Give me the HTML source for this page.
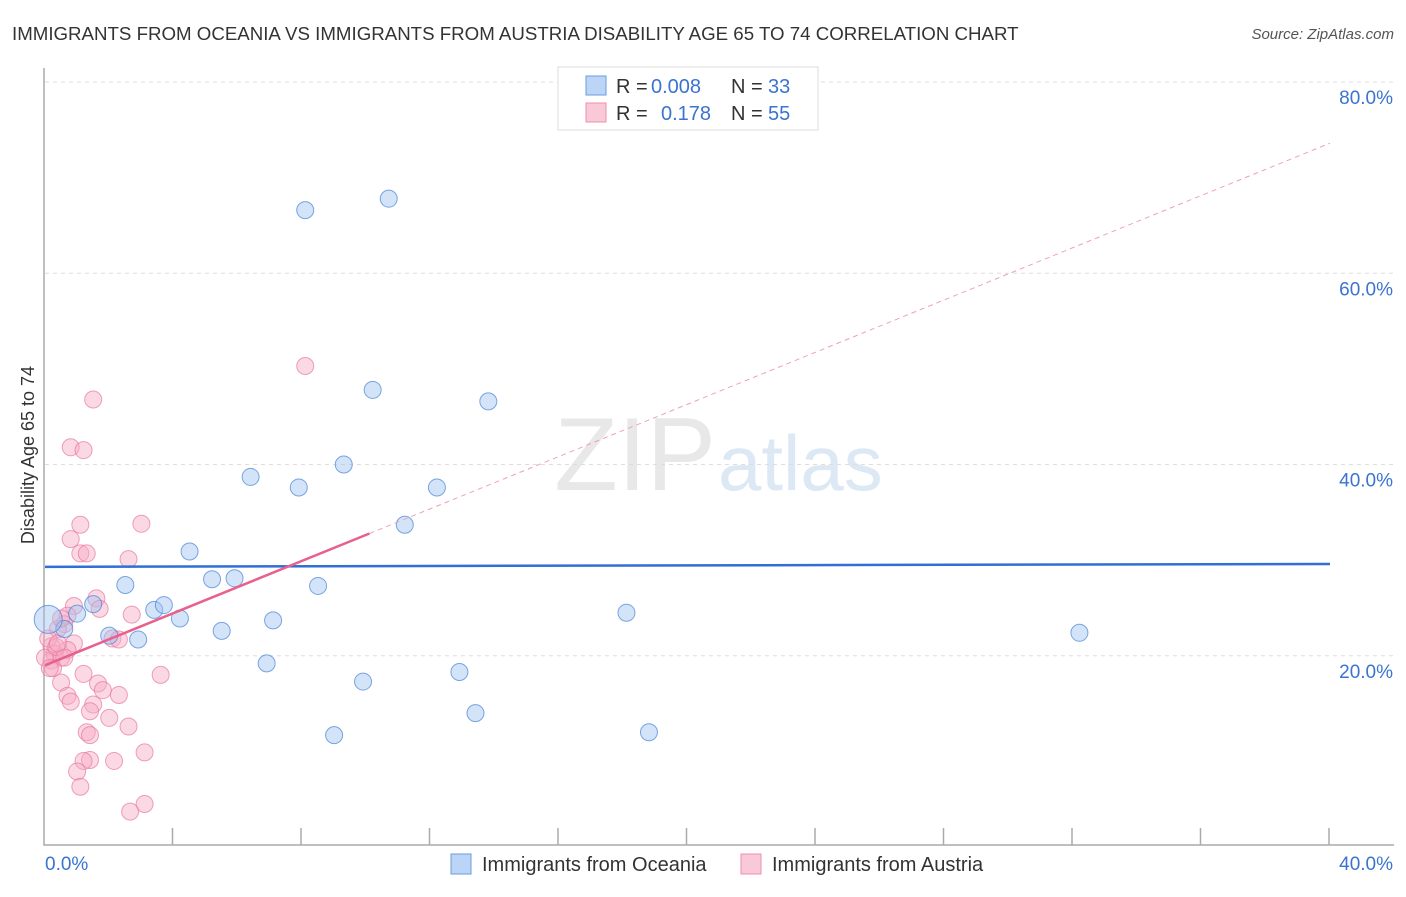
<!DOCTYPE html>
<html><head><meta charset="utf-8"><style>
body{margin:0;background:#fff;font-family:"Liberation Sans",sans-serif;}
svg text{font-family:"Liberation Sans",sans-serif;}
</style></head><body>
<svg width="1406" height="892" viewBox="0 0 1406 892">
<text x="12" y="40" font-size="18.7" fill="#333">IMMIGRANTS FROM OCEANIA VS IMMIGRANTS FROM AUSTRIA DISABILITY AGE 65 TO 74 CORRELATION CHART</text>
<text x="1394" y="39" font-size="15" fill="#555" font-style="italic" text-anchor="end">Source: ZipAtlas.com</text>
<text x="716" y="490" font-size="104" fill="#e8e8e8" text-anchor="end" font-family="Liberation Serif">ZIP</text>
<text x="718" y="490" font-size="78" fill="#dde8f5">atlas</text>
<g id="grid"></g>
<g id="axes"></g>
<g id="marks"></g>
<text x="34" y="455" font-size="18" fill="#333" text-anchor="middle" transform="rotate(-90 34 455)">Disability Age 65 to 74</text>
<g>
<rect x="558" y="67" width="260" height="63" fill="#fff" stroke="#ddd"/>
<rect x="586" y="76" width="20" height="19" fill="#bcd4f5" stroke="#6a9be0"/>
<rect x="586" y="103" width="20" height="19" fill="#f9c9d8" stroke="#ec8fae"/>
<text x="616" y="93" font-size="20" fill="#333">R =</text>
<text x="651" y="93" font-size="20" fill="#3a74d0">0.008</text>
<text x="731" y="93" font-size="20" fill="#333">N =</text>
<text x="768" y="93" font-size="20" fill="#3a74d0">33</text>
<text x="616" y="120" font-size="20" fill="#333">R =</text>
<text x="661" y="120" font-size="20" fill="#3a74d0">0.178</text>
<text x="731" y="120" font-size="20" fill="#333">N =</text>
<text x="768" y="120" font-size="20" fill="#3a74d0">55</text>
</g>
<g>
<rect x="451" y="854" width="20" height="20" fill="#bcd4f5" stroke="#6a9be0"/>
<text x="482" y="871" font-size="20" fill="#333">Immigrants from Oceania</text>
<rect x="741" y="854" width="20" height="20" fill="#f9c9d8" stroke="#ec8fae"/>
<text x="772" y="871" font-size="20" fill="#333">Immigrants from Austria</text>
</g>
</svg>
<script>
const yTicks=[20,40,60,80];
const xTickLabels=["0.0%","40.0%"];
const blueX=[8.1,10.7,10.2,13.8,6.4,7.9,9.3,12.2,11.2,4.5,2.5,5.2,5.9,8.5,3.4,3.7,4.2,1.5,1.0,0.6,2.0,2.9,5.5,7.1,6.9,9.9,12.9,9.0,13.4,18.1,18.8,32.2,0.1];
const blueY=[66.6,67.8,47.8,46.6,38.7,37.6,40.0,37.6,33.7,30.9,27.4,28.0,28.1,27.3,24.8,25.3,23.9,25.4,24.4,22.8,22.1,21.7,22.6,23.7,19.2,17.3,18.3,11.7,14.0,24.5,12.0,22.4,23.8];
const pinkX=[8.1,1.5,0.8,1.2,1.1,3.0,0.8,1.1,1.3,2.6,1.6,1.7,0.9,2.7,0.7,0.6,0.4,2.1,2.3,0.9,0.2,0.7,0.3,0.5,0.2,0.25,1.2,3.6,1.65,1.8,0.5,2.3,0.7,0.8,1.5,1.4,2.0,2.6,1.3,1.4,3.1,1.4,1.2,2.15,1.0,1.1,3.1,2.65,0.1,0.5,0.0,0.35,0.6,0.15,0.4];
const pinkY=[50.3,46.8,41.8,41.5,33.7,33.8,32.2,30.7,30.7,30.1,26.0,24.9,25.2,24.3,24.2,23.3,22.8,21.8,21.7,21.3,21.0,20.6,20.2,19.8,19.5,18.7,18.1,18.0,17.1,16.4,17.2,15.9,15.8,15.2,14.9,14.2,13.5,12.6,12.0,11.7,9.9,9.1,9.0,9.0,7.9,6.3,4.5,3.7,21.8,23.9,19.8,20.9,19.8,18.7,21.3];
const blueLine=[29.3,29.6];
const pinkLine=[19.0,73.6];
const X0=45,X1=1330,Y0=847,Y80=82;
const xs=v=>X0+(X1-X0)*v/40;
const ys=v=>Y0-(Y0-Y80)*v/80;
const NS="http://www.w3.org/2000/svg";
function mk(p,t,a){const e=document.createElementNS(NS,t);for(const k in a)e.setAttribute(k,a[k]);p.appendChild(e);return e;}
const grid=document.getElementById('grid'),axes=document.getElementById('axes'),marks=document.getElementById('marks');
yTicks.forEach(t=>{
 const l=mk(grid,'line',{x1:X0,x2:1394,y1:ys(t),y2:ys(t),stroke:'#ddd','stroke-dasharray':'4,4'});
 
 
 const tx=mk(axes,'text',{x:1393,y:ys(t)+22,'font-size':19,fill:'#3a74d0','text-anchor':'end'});
 tx.textContent=t.toFixed(1)+'%';
 
 
});
const ax=mk(axes,'path',{d:`M44 68 V845 H1394`,fill:'none',stroke:'#aaa','stroke-width':1.5});


for(let i=1;i<=10;i++){const t=mk(axes,'line',{x1:xs(i*4)-1,x2:xs(i*4)-1,y1:828,y2:845,stroke:'#aaa','stroke-width':1.5});
 
 }
xTickLabels.forEach((s,i)=>{const t=mk(axes,'text',{x:i?1393:45,y:870,'font-size':19,fill:'#3a74d0','text-anchor':i?'end':'start'});t.textContent=s;
 
 });
pinkX.forEach((x,i)=>{const c=mk(marks,'circle',{cx:xs(x),cy:ys(pinkY[i]),r:8.5,fill:'rgba(246,170,195,0.45)',stroke:'rgba(232,120,158,0.7)','stroke-width':1});
 
 });
blueX.forEach((x,i)=>{const c=mk(marks,'circle',{cx:xs(x),cy:ys(blueY[i]),r:i==blueX.length-1?14:8.5,fill:'rgba(160,195,240,0.45)',stroke:'rgba(70,130,215,0.7)','stroke-width':1});
 
 });
const bl=mk(marks,'line',{x1:xs(0),y1:ys(blueLine[0]),x2:xs(40),y2:ys(blueLine[1]),stroke:'#2f6fd6','stroke-width':2.5});


const pf=x=>pinkLine[0]+(pinkLine[1]-pinkLine[0])*x/40;
const pd=mk(marks,'line',{x1:xs(10.1),y1:ys(pf(10.1)),x2:xs(40),y2:ys(pf(40)),stroke:'#f0a0b8','stroke-width':1,'stroke-dasharray':'5,4'});


const ps=mk(marks,'line',{x1:xs(0),y1:ys(pf(0)),x2:xs(10.1),y2:ys(pf(10.1)),stroke:'#e8608c','stroke-width':2.5});


</script>
</body></html>
